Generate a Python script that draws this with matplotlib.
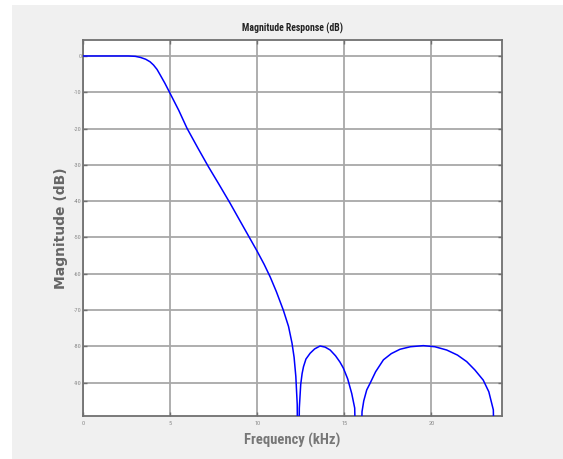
import matplotlib
matplotlib.use("Agg")
import matplotlib.pyplot as plt
from matplotlib.patches import Rectangle
from matplotlib import font_manager

plt.rcParams['axes.unicode_minus'] = False

# Frequency (kHz) and magnitude (dB)
freq_khz = [0.0, 1.0, 2.0, 2.6, 3.0, 3.3, 3.6, 3.85, 4.05, 4.25, 4.43, 4.7, 5.0,
            5.5, 5.97, 6.6, 7.2, 7.8, 8.45, 9.0, 9.6, 10.0, 10.4, 10.75, 11.1,
            11.5, 11.8, 12.0, 12.12, 12.22, 12.30, 12.36, 12.42, 12.5, 12.58,
            12.66, 12.8, 13.04, 13.3, 13.61, 13.9, 14.19, 14.5, 14.75, 14.95,
            15.2, 15.43, 15.6, 15.75, 15.9, 16.02, 16.12, 16.29, 16.48, 16.8,
            17.25, 17.7, 18.2, 18.8, 19.54, 20.2, 20.88, 21.5, 22.03, 22.5,
            22.98, 23.3, 23.56, 23.68, 23.8, 24.0]
mag_db = [0.0, 0.0, 0.0, 0.0, -0.1, -0.4, -0.9, -1.6, -2.5, -3.7, -5.2, -7.5, -10.3,
          -15.0, -19.9, -25.4, -30.5, -35.3, -40.6, -45.3, -50.4, -53.8, -57.4,
          -60.9, -64.9, -70.0, -74.5, -79.1, -83.0, -88.3, -96.0, -130.0, -97.0,
          -90.5, -87.5, -85.6, -83.5, -81.9, -80.7, -79.9, -80.2, -81.0, -82.6,
          -84.3, -86.0, -89.0, -93.0, -97.0, -130.0, -130.0, -98.0, -95.0, -92.0,
          -90.2, -87.0, -83.7, -82.0, -80.8, -80.1, -79.8, -80.1, -81.0, -82.4,
          -84.2, -86.5, -89.3, -92.5, -97.5, -130.0, -130.0, -130.0]

x_ticks = [0, 5, 10, 15, 20]
y_ticks = [0, -10, -20, -30, -40, -50, -60, -70, -80, -90]

names = {f.name for f in font_manager.fontManager.ttflist}
narrow = 'DejaVu Sans'
for cand in ['Roboto Condensed', 'Liberation Sans Narrow', 'Open Sans Condensed',
             'Noto Sans Condensed', 'DejaVu Sans Condensed']:
    if cand in names:
        narrow = cand
        break

W, H = 563, 459
fig = plt.figure(figsize=(W / 100, H / 100), dpi=100, facecolor='white')
fig.patches.append(Rectangle((12 / W, 0), 1, (H - 5) / H, transform=fig.transFigure,
                             facecolor='#f0f0f0', edgecolor='none', zorder=-10))

left, right, top, bottom = 83, 501.7, 40, 415.7
ax = fig.add_axes([left / W, 1 - bottom / H, (right - left) / W, (bottom - top) / H])
ax.set_facecolor('white')

ax.plot(freq_khz, mag_db, color='#0000ff', lw=1.1, zorder=3)
ax.set_xlim(0, 24.04)
ax.set_ylim(-99.1, 4.4)
ax.set_xticks(x_ticks)
ax.set_yticks(y_ticks)
ax.set_xticklabels([str(v) for v in x_ticks])
ax.set_yticklabels([str(v) for v in y_ticks])

ax.grid(True, color='#a8a8a8', lw=1.3, zorder=0)
ax.tick_params(direction='in', length=3, width=1, color='#707070',
               top=True, right=True, labelsize=4.5, labelcolor='#8a8a8a')
ax.tick_params(axis='y', pad=1)
ax.tick_params(axis='x', pad=4)
for s in ax.spines.values():
    s.set_color('#707070')
    s.set_linewidth(1.3)
for lab in ax.get_xticklabels() + ax.get_yticklabels():
    lab.set_family(narrow)
    lab.set_stretch('condensed')

ax.set_title('Magnitude Response (dB)', family=narrow, fontweight='bold',
             fontsize=7, color='#222222', pad=6, fontstretch='condensed')
ax.set_xlabel('Frequency (kHz)', family=narrow, fontweight='bold', fontsize=10.5,
              color='#777777', labelpad=5, fontstretch='condensed')
ax.set_ylabel('Magnitude (dB)', family='DejaVu Sans', fontweight='bold',
              fontsize=10, color='#666666', labelpad=4)

fig.savefig('out.png', dpi=100, facecolor=fig.get_facecolor())
